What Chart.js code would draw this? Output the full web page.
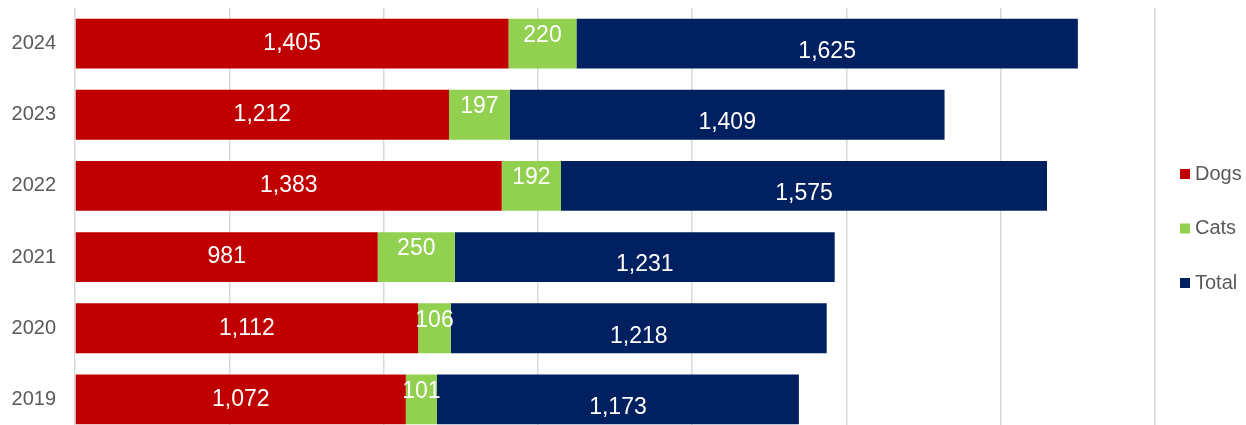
<!DOCTYPE html>
<html>
<head>
  <meta charset="UTF-8">
  <script src="https://cdn.jsdelivr.net/npm/chart.js"></script>
  <style>
    html, body { margin: 0; padding: 0; background: #fff; overflow: hidden; }
    .chartBox { width: 1246px; height: 435px; }
  </style>
</head>
<body>
  <div class="chartBox">
    <canvas id="myChart"></canvas>
  </div>
  <script>
    const years = ['2024', '2023', '2022', '2021', '2020', '2019'];
    const dogs = [1405, 1212, 1383, 981, 1112, 1072];
    const cats = [220, 197, 192, 250, 106, 101];
    const total = [1625, 1409, 1575, 1231, 1218, 1173];

    // excel-ish label offsets (cats sit high, total sits low)
    const labelShift = [0, -8, 8];

    const barLabels = {
      id: 'barLabels',
      afterDatasetsDraw(chart) {
        const ctx = chart.ctx;
        ctx.save();
        ctx.font = '23px "Liberation Sans", Arial, sans-serif';
        ctx.fillStyle = '#ffffff';
        ctx.textAlign = 'center';
        ctx.textBaseline = 'middle';
        chart.data.datasets.forEach((ds, i) => {
          chart.getDatasetMeta(i).data.forEach((bar, j) => {
            const cx = (bar.x + bar.base) / 2;
            ctx.fillText(ds.data[j].toLocaleString('en-US'), cx, bar.y + labelShift[i]);
          });
        });
        ctx.restore();
      }
    };

    const sideLegend = {
      id: 'sideLegend',
      afterDraw(chart) {
        const ctx = chart.ctx;
        ctx.save();
        ctx.font = '20px "Liberation Sans", Arial, sans-serif';
        ctx.textBaseline = 'middle';
        ctx.textAlign = 'left';
        chart.data.datasets.forEach((ds, i) => {
          const y = 174 + i * 54.5;
          ctx.fillStyle = ds.backgroundColor;
          ctx.fillRect(1180, y - 5, 10, 10);
          ctx.fillStyle = '#595959';
          ctx.fillText(ds.label, 1195, y);
        });
        ctx.restore();
      }
    };

    new Chart(document.getElementById('myChart'), {
      type: 'bar',
      data: {
        labels: years,
        datasets: [
          { label: 'Dogs', data: dogs, backgroundColor: '#c00000' },
          { label: 'Cats', data: cats, backgroundColor: '#92d050' },
          { label: 'Total', data: total, backgroundColor: '#002060' }
        ]
      },
      options: {
        indexAxis: 'y',
        responsive: true,
        maintainAspectRatio: false,
        animation: false,
        datasets: { bar: { barPercentage: 0.7, categoryPercentage: 1 } },
        layout: { padding: { top: 8, right: 91, bottom: 0, left: 0 } },
        plugins: {
          legend: { display: false },
          tooltip: { enabled: false }
        },
        scales: {
          x: {
            stacked: true,
            min: 0,
            max: 3500,
            ticks: { display: false, stepSize: 500 },
            grid: { color: '#d9d9d9', lineWidth: 1.5, drawTicks: false },
            border: { display: false },
            afterFit(scale) {
              scale.height = 0;
              scale.paddingLeft = 0;
              scale.paddingRight = 0;
            }
          },
          y: {
            stacked: true,
            grid: { display: false, drawTicks: false },
            border: { display: false },
            ticks: {
              color: '#595959',
              padding: 19,
              font: { family: '"Liberation Sans", Arial, sans-serif', size: 20 }
            },
            afterFit(scale) {
              scale.width = 75;
              scale.paddingTop = 0;
              scale.paddingBottom = 0;
            }
          }
        }
      },
      plugins: [barLabels, sideLegend]
    });
  </script>
</body>
</html>
